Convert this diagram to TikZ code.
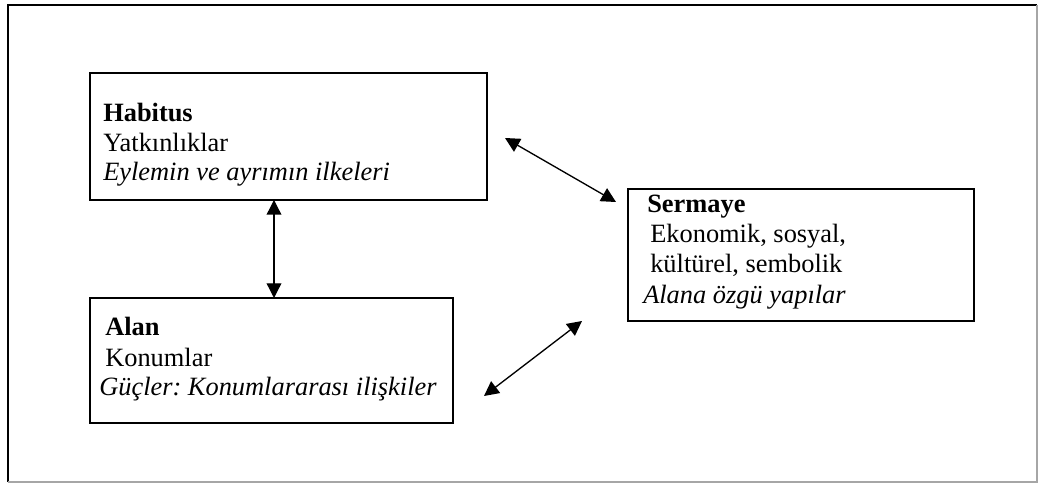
\documentclass[tikz,border=0pt]{standalone}
\usepackage{fontspec}
\setmainfont{Liberation Serif}
\usetikzlibrary{arrows.meta}
\frenchspacing
\begin{document}
\begin{tikzpicture}[x=0.75pt,y=-0.75pt,
  box/.style={draw,line width=2pt,inner sep=0pt,rectangle},
  txt/.style={anchor=base west,inner sep=0pt,font=\fontsize{19.8pt}{22.5pt}\selectfont},
  link/.style={line width=1pt,{Triangle[length=11pt,width=11pt]}-{Triangle[length=11pt,width=11pt]}}]
\useasboundingbox (0,0) rectangle (1038,484);
% outer frame
\draw[line width=2pt] (8,482) -- (8,5) -- (1037,5);
\draw[line width=1.2pt,gray!70] (8,482) -- (1037,482) -- (1037,5);
% boxes
\node[box,minimum width=297.75pt,minimum height=95.25pt] (habitus) at (288.5,136.5) {};
\node[box,minimum width=272.25pt,minimum height=93.75pt] (alan) at (271.5,360.5) {};
\node[box,minimum width=259.5pt,minimum height=99pt] (sermaye) at (801,255) {};
% texts
\node[txt] (h1) at (103,122) {\textbf{Habitus}};
\node[txt] (h2) at (103,152) {Yatkınlıklar};
\node[txt] (h3) at (103,181) {\textit{Eylemin ve ayrımın ilkeleri}};
\node[txt] (a1) at (105,335) {\textbf{Alan}};
\node[txt] (a2) at (105,366) {Konumlar};
\node[txt] (a3) at (99,395) {\textit{Güçler: Konumlararası ilişkiler}};
\node[txt] (s1) at (647,213) {\textbf{Sermaye}};
\node[txt] (s2) at (650,243) {Ekonomik, sosyal,};
\node[txt] (s3) at (650,273) {kültürel, sembolik};
\node[txt] (s4) at (643,304) {\textit{Alana özgü yapılar}};
% arrow end points
\coordinate (v1) at (274,200);
\coordinate (v2) at (274,298);
\coordinate (d1) at (505,138);
\coordinate (d2) at (616,202);
\coordinate (e1) at (484,396);
\coordinate (e2) at (582,321);
\draw[link] (v1) -- (v2);
\draw[link] (d1) -- (d2);
\draw[link] (e1) -- (e2);
\end{tikzpicture}
\end{document}
